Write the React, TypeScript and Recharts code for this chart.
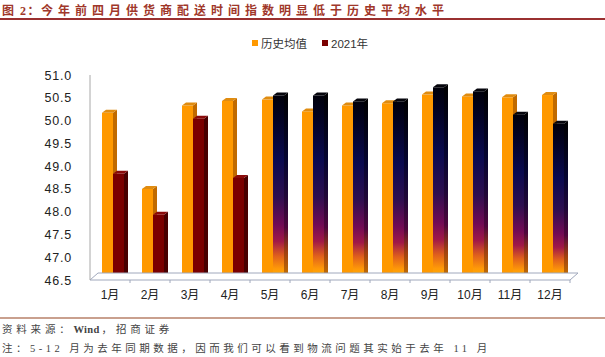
import React from 'react';
import { BarChart, Bar, XAxis, YAxis, Cell, ReferenceLine } from 'recharts';

const months = ['1月', '2月', '3月', '4月', '5月', '6月', '7月', '8月', '9月', '10月', '11月', '12月'];
const histAvg = [50.17, 48.5, 50.33, 50.43, 50.46, 50.2, 50.33, 50.38, 50.57, 50.53, 50.51, 50.56];
const y2021 = [48.83, 47.93, 50.04, 48.74, 50.55, 50.55, 50.42, 50.42, 50.73, 50.64, 50.13, 49.93];
const yTicks = [46.5, 47.0, 47.5, 48.0, 48.5, 49.0, 49.5, 50.0, 50.5, 51.0];
const seriesNames = ['历史均值', '2021年'];
const lastYearFrom = 4; // 5-12月 use last-year gradient styling

const titlePrefix = '图 2：';
const titleBody = '今年前四月供货商配送时间指数明显低于历史平均水平';
const sourceParts = ['资料来源：', 'Wind', '，招商证券'];
const noteText = '注：5-12 月为去年同期数据，因而我们可以看到物流问题其实始于去年 11 月';

const data = months.map((m, i) => ({ month: m, hist: histAvg[i], cur: y2021[i] }));

const ORANGE = '#FF9900';
const DARKRED = '#7A0000';

const Bar3D = (props: any) => {
  const { x, y, width, height, fill } = props;
  if (height == null || width == null) return null;
  const dx = 3;
  const d = 4;
  const dy = 3;
  const X = x + dx;
  let side = '#C06A00';
  let top = '#E08C10';
  if (fill === DARKRED) {
    side = '#480000';
    top = '#8A0A0A';
  } else if (typeof fill === 'string' && fill.startsWith('url')) {
    side = 'url(#gradSide)';
    top = '#05050c';
  }
  return (
    <g>
      <rect x={X} y={y} width={width} height={height} fill={fill} />
      <polygon
        points={`${X + width},${y} ${X + width + d},${y - dy} ${X + width + d},${y + height - dy} ${X + width},${y + height}`}
        fill={side}
      />
      <polygon
        points={`${X},${y} ${X + d},${y - dy} ${X + width + d},${y - dy} ${X + width},${y}`}
        fill={top}
      />
    </g>
  );
};

const Floor = (props: any) => {
  const { x1, x2, y1 } = props;
  if (x1 == null) return null;
  const fx = 8;
  const fy = 7;
  const n = months.length;
  const step = (x2 - x1) / n;
  const ticks = [];
  for (let k = 1; k <= n; k++) {
    ticks.push(
      <line key={k} x1={x1 + k * step} x2={x1 + k * step} y1={y1} y2={y1 + 3} stroke="#A0A8BC" strokeWidth={1} />
    );
  }
  return (
    <g>
      <polygon
        points={`${x1},${y1} ${x1 + fx},${y1 - fy} ${x2 + fx},${y1 - fy} ${x2},${y1}`}
        fill="#ffffff"
        stroke="#A0A8BC"
        strokeWidth={1}
      />
      {ticks}
    </g>
  );
};

const XTick = (props: any) => {
  const { x, y, payload } = props;
  return (
    <text x={x} y={y} dy={11} textAnchor="middle" fill="#222" fontSize={12}
      fontFamily="'Liberation Sans', Arial, 'Noto Sans CJK SC', sans-serif">
      {payload.value}
    </text>
  );
};

const YTick = (props: any) => {
  const { x, y, payload } = props;
  return (
    <text x={x} y={y} dy={4.5} textAnchor="end" fill="#222" fontSize={12.5} letterSpacing={0.8}
      fontFamily="'Liberation Sans', Arial, sans-serif">
      {Number(payload.value).toFixed(1)}
    </text>
  );
};

export default function App() {
  const legendColors = [ORANGE, DARKRED];
  const serif = "'Liberation Serif', 'Noto Sans CJK SC', serif";
  return (
    <div style={{ position: 'absolute', left: 0, top: 0, width: 605, height: 357, background: '#fff', overflow: 'hidden' }}>
      <div style={{
        position: 'absolute', left: 2, top: 1, fontSize: 12, fontWeight: 700, color: '#A0372A',
        whiteSpace: 'nowrap', fontFamily: serif,
      }}>
        <span style={{ letterSpacing: 1.5 }}>{titlePrefix}</span>
        <span style={{ letterSpacing: 5 }}>{titleBody}</span>
      </div>
      <div style={{ position: 'absolute', left: 0, top: 18, width: 605, height: 1.5, background: '#9A3030' }} />

      <div style={{
        position: 'absolute', left: 252, top: 35, display: 'flex', alignItems: 'center',
        fontSize: 11.5, color: '#333', fontFamily: "'Liberation Sans', Arial, 'Noto Sans CJK SC', sans-serif", whiteSpace: 'nowrap',
      }}>
        {seriesNames.map((n, i) => (
          <div key={n} style={{ display: 'flex', alignItems: 'center', marginRight: i === 0 ? 15 : 0 }}>
            <div style={{ width: 6, height: 6, background: legendColors[i], marginRight: 3 }} />
            <span>{n}</span>
          </div>
        ))}
      </div>

      <div style={{ position: 'absolute', left: 0, top: 0 }}>
        <BarChart width={605} height={357} data={data}
          margin={{ top: 75, right: 35, bottom: 47, left: 0 }}
          barGap={0}>
          <defs>
            <linearGradient id="gradFront" x1="0" y1="0" x2="0" y2="1">
              <stop offset="0" stopColor="#00000a" />
              <stop offset="0.12" stopColor="#020222" />
              <stop offset="0.35" stopColor="#0a0a50" />
              <stop offset="0.55" stopColor="#2e0f50" />
              <stop offset="0.7" stopColor="#700a55" />
              <stop offset="0.79" stopColor="#a01848" />
              <stop offset="0.87" stopColor="#e0601c" />
              <stop offset="0.94" stopColor="#ff9a08" />
              <stop offset="1" stopColor="#ffb400" />
            </linearGradient>
            <linearGradient id="gradSide" x1="0" y1="0" x2="0" y2="1">
              <stop offset="0" stopColor="#000000" />
              <stop offset="0.35" stopColor="#050530" />
              <stop offset="0.55" stopColor="#200838" />
              <stop offset="0.72" stopColor="#50063c" />
              <stop offset="0.85" stopColor="#a04010" />
              <stop offset="1" stopColor="#c87800" />
            </linearGradient>
          </defs>
          <XAxis dataKey="month" axisLine={false} tickLine={false} height={30} tick={<XTick />} interval={0} />
          <YAxis type="number" domain={[46.5, 51]} ticks={yTicks} width={90} allowDataOverflow interval={0}
            axisLine={{ stroke: '#A8A8A8' }} tickLine={false} tickMargin={12} tick={<YTick />} />
          <ReferenceLine y={46.5} shape={<Floor />} ifOverflow="visible" />
          <Bar dataKey="hist" name={seriesNames[0]} fill={ORANGE} barSize={11} isAnimationActive={false} shape={<Bar3D />} />
          <Bar dataKey="cur" name={seriesNames[1]} fill={DARKRED} barSize={11} isAnimationActive={false} shape={<Bar3D />}>
            {data.map((d, i) => (
              <Cell key={d.month} fill={i >= lastYearFrom ? 'url(#gradFront)' : DARKRED} />
            ))}
          </Bar>
        </BarChart>
      </div>

      <div style={{ position: 'absolute', left: 0, top: 317, width: 605, height: 1.5, background: '#C9A08E' }} />
      <div style={{
        position: 'absolute', left: 2, top: 321, fontSize: 10.5, color: '#444', letterSpacing: 3.8, whiteSpace: 'nowrap',
        fontFamily: serif,
      }}>
        <span>{sourceParts[0]}</span>
        <span style={{ letterSpacing: 0.3, fontWeight: 700, marginRight: 2 }}>{sourceParts[1]}</span>
        <span>{sourceParts[2]}</span>
      </div>
      <div style={{
        position: 'absolute', left: 2, top: 340, fontSize: 10.5, color: '#444', letterSpacing: 3.5, whiteSpace: 'nowrap',
        fontFamily: serif,
      }}>{noteText}</div>
    </div>
  );
}
